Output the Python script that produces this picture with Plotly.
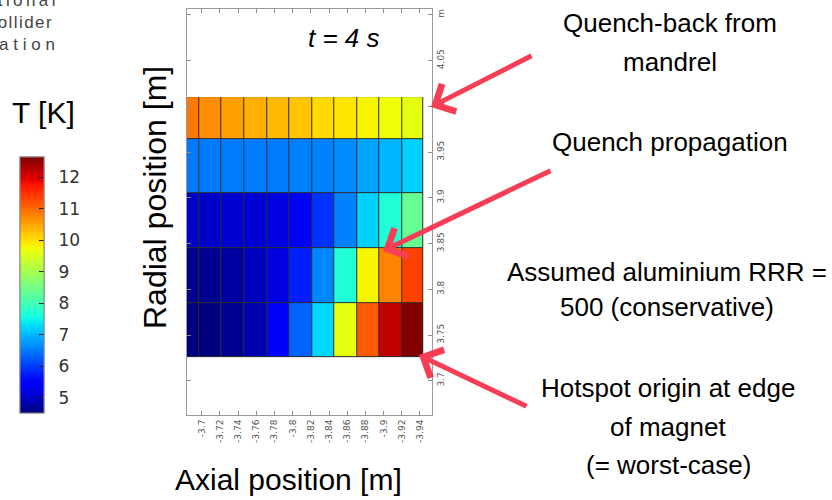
import plotly.graph_objects as go

W, H = 832, 500

# ---------------- data ----------------
axial_edges = [-3.672, -3.697, -3.722, -3.747, -3.772, -3.796, -3.821,
               -3.846, -3.871, -3.895, -3.920, -3.944]
radial_edges = [3.726, 3.785, 3.845, 3.905, 3.964, 4.010]

# temperature [K], rows from bottom (r=3.73) to top (r=4.0), columns along axial edges
temp_row1 = [4.52, 4.53, 4.64, 4.85, 5.40, 6.33, 7.24, 9.63, 11.14, 12.18, 12.62]
temp_row2 = [4.61, 4.64, 4.75, 4.96, 5.20, 5.78, 6.61, 7.66, 9.80, 10.79, 11.35]
temp_row3 = [5.02, 5.05, 5.09, 5.11, 5.20, 5.35, 5.94, 6.57, 7.20, 7.66, 8.37]
temp_row4 = [6.50, 6.51, 6.52, 6.52, 6.53, 6.55, 6.57, 6.65, 6.85, 6.98, 7.20]
temp_row5 = [10.88, 10.70, 10.53, 10.40, 10.31, 10.22, 10.03, 9.94, 9.80, 9.73, 9.63]
temps = [temp_row1, temp_row2, temp_row3, temp_row4, temp_row5]

T_MIN, T_MAX = 4.52, 12.64
cbar_ticks = [5, 6, 7, 8, 9, 10, 11, 12]

x_tickvals = [-3.70, -3.72, -3.74, -3.76, -3.78, -3.80, -3.82, -3.84,
              -3.86, -3.88, -3.90, -3.92, -3.94]
x_ticktext = ["-3.7", "-3.72", "-3.74", "-3.76", "-3.78", "-3.8", "-3.82",
              "-3.84", "-3.86", "-3.88", "-3.9", "-3.92", "-3.94"]
y_tickvals = [3.70, 3.75, 3.80, 3.85, 3.90, 3.95, 4.00, 4.05, 4.10]
y_ticktext = ["3.7", "3.75", "3.8", "3.85", "3.9", "3.95", "4", "4.05", "m"]

x_range = [-3.6835, -3.9532]
y_range = [3.6626, 4.1063]


# ---------------- jet colorscale ----------------
def interp(x, pts):
    for (x0, v0), (x1, v1) in zip(pts[:-1], pts[1:]):
        if x0 <= x <= x1:
            return v0 + (v1 - v0) * (x - x0) / (x1 - x0) if x1 > x0 else v1
    return pts[-1][1]


R_PTS = [(0, 0), (0.35, 0), (0.66, 1), (0.89, 1), (1, 0.5)]
G_PTS = [(0, 0), (0.125, 0), (0.375, 1), (0.64, 1), (0.91, 0), (1, 0)]
B_PTS = [(0, 0.5), (0.11, 1), (0.34, 1), (0.65, 0), (1, 0)]
stops = [0, 0.11, 0.125, 0.2, 0.3, 0.34, 0.35, 0.375, 0.45, 0.55, 0.64, 0.65,
         0.66, 0.75, 0.85, 0.89, 0.91, 1.0]
jet = [[s, "rgb(%d,%d,%d)" % (round(255 * interp(s, R_PTS)),
                              round(255 * interp(s, G_PTS)),
                              round(255 * interp(s, B_PTS)))] for s in stops]

FONT = "Liberation Sans, Arial, sans-serif"


def px(x):
    return x / W


def py(y):
    return 1 - y / H


fig = go.Figure()

# dark underlay providing the cell borders
fig.add_trace(go.Heatmap(
    x=axial_edges, y=radial_edges, z=[[0] * len(r) for r in temps],
    colorscale=[[0, "#2e2e2e"], [1, "#2e2e2e"]], showscale=False,
    hoverinfo="skip"))

cbar_common = dict(
    x=px(20), xanchor="left", y=py(285), yanchor="middle",
    thickness=24, thicknessmode="pixels", len=256, lenmode="pixels",
    outlinewidth=1, outlinecolor="#888888", xpad=0, ypad=0,
    tickvals=cbar_ticks,
)

fig.add_trace(go.Heatmap(
    x=axial_edges, y=radial_edges, z=temps,
    colorscale=jet, zmin=T_MIN, zmax=T_MAX, xgap=1, ygap=1,
    colorbar=dict(
        ticks="outside", ticklen=11, tickcolor="rgba(0,0,0,0)",
        tickfont=dict(family="DejaVu Sans, sans-serif", size=17, color="#333333"),
        **cbar_common),
))

# second colour bar on top, carrying the short inside tick marks
fig.add_trace(go.Scatter(
    x=[None], y=[None], mode="markers", hoverinfo="skip",
    marker=dict(color=[T_MIN], cmin=T_MIN, cmax=T_MAX, colorscale=jet,
                showscale=True,
                colorbar=dict(ticks="inside", ticklen=5, tickcolor="#222222",
                              tickwidth=1, showticklabels=False, **cbar_common)),
))

axis_common = dict(showline=True, linecolor="#9a9a9a", linewidth=1,
                   ticks="inside", ticklen=4, tickcolor="#8a8a8a",
                   showgrid=False, zeroline=False, tickangle=-90,
                   tickfont=dict(family="DejaVu Sans, sans-serif", size=9, color="#555555"))

fig.update_layout(
    width=W, height=H, margin=dict(l=0, r=0, t=0, b=0),
    paper_bgcolor="white", plot_bgcolor="white",
    showlegend=False,
    xaxis=dict(domain=[px(186.7), px(432)], range=x_range,
               tickvals=x_tickvals, ticktext=x_ticktext,
               mirror="allticks", **axis_common),
    yaxis=dict(domain=[py(415), py(9)], range=y_range, side="right",
               tickvals=y_tickvals, ticktext=y_ticktext,
               mirror="allticks", **axis_common),
)


def text(t, x, y, size=26, color="black", xanchor="center", italic=False,
         angle=0, family=FONT):
    fig.add_annotation(
        text=("<i>%s</i>" % t) if italic else t, x=px(x), y=py(y),
        xref="paper", yref="paper", showarrow=False,
        xanchor=xanchor, yanchor="middle", textangle=angle,
        font=dict(family=family, size=size, color=color))


def arrow(tip, tail):
    fig.add_annotation(
        x=px(tip[0]), y=py(tip[1]), xref="paper", yref="paper",
        ax=tail[0] - tip[0], ay=tail[1] - tip[1], axref="pixel", ayref="pixel",
        showarrow=True, arrowhead=4, arrowsize=1.2, arrowwidth=5,
        arrowcolor="#F73E54", standoff=0, text="")


# logo fragment, top-left (cut off by page edge)
text("\u2009".join("International"), 57, 0, size=17, color="#444444", xanchor="right")
text("\u200a".join("Collider"), 54, 22, size=17, color="#444444", xanchor="right")
text(" ".join("Collaboration"), 57, 45, size=17, color="#444444", xanchor="right")

text("T [K]", 43, 113, size=30)
text("Radial position [m]", 155, 198, size=32, angle=-90)
text("Axial position [m]", 288, 479, size=30)
text("t = 4 s", 344, 38, size=26, italic=True)

text("Quench-back from", 670, 23)
text("mandrel", 670, 62)
text("Quench propagation", 670, 142)
text("Assumed aluminium RRR =", 667, 272)
text("500 (conservative)", 667, 307)
text("Hotspot origin at edge", 668, 388)
text("of magnet", 668, 427)
text("(= worst-case)", 668, 465)

arrow((431, 107), (533, 55))
arrow((383, 251), (552, 170))
arrow((419, 355), (528, 407))

fig.write_html("out.html")
